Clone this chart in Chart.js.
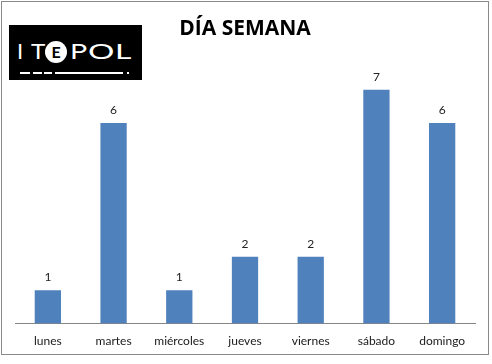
<!DOCTYPE html>
<html>
<head>
<meta charset="utf-8">
<script src="https://cdn.jsdelivr.net/npm/chart.js@4/dist/chart.umd.min.js"></script>
<style>
  body { margin: 0; background: #fff; }
  #wrap { position: relative; width: 492px; height: 364px; }
  #frame { position: absolute; left: 1px; top: 1px; width: 486px; height: 352px; border: 1px solid #8a8a8a; pointer-events: none; }
  #logo { position: absolute; left: 9px; top: 25px; width: 133px; height: 55px; background: #000; font-family: Lato, "DejaVu Sans", sans-serif; color: #fff; }
  #logo .ch { position: absolute; top: 15px; font-size: 22px; line-height: 22px; font-weight: 400; transform-origin: left center; }
  #logo .circ { position: absolute; left: 36px; top: 16px; width: 22px; height: 22px; border-radius: 50%; background: #fff; color: #000; font-size: 16px; font-weight: 700; line-height: 22px; text-align: center; }
  #logo .dash { position: absolute; top: 47px; height: 2px; background: #fff; }
</style>
</head>
<body>
<div id="wrap">
  <canvas id="chart" width="492" height="364"></canvas>
  <div id="frame"></div>
  <div id="logo">
    <span class="ch" style="left:8px">I</span>
    <span class="ch" style="left:22px;transform:scaleX(1.1)">T</span>
    <span class="circ">E</span>
    <span class="ch" style="left:61px;transform:scaleX(1.3)">P</span>
    <span class="ch" style="left:79px;transform:scaleX(1.5)">O</span>
    <span class="ch" style="left:106px;transform:scaleX(1.45)">L</span>
    <span class="dash" style="left:11px;width:10px"></span>
    <span class="dash" style="left:24px;width:9px"></span>
    <span class="dash" style="left:35px;width:8px"></span>
    <span class="dash" style="left:46px;width:68px"></span>
    <span class="dash" style="left:118px;width:2px"></span>
  </div>
</div>
<script>
const days = ['lunes', 'martes', 'miércoles', 'jueves', 'viernes', 'sábado', 'domingo'];
const counts = [1, 6, 1, 2, 2, 7, 6];
const yMax = 8;

const valueLabels = {
  id: 'valueLabels',
  afterDatasetsDraw(chart) {
    const ctx = chart.ctx;
    ctx.save();
    ctx.font = '12px Lato, "DejaVu Sans", sans-serif';
    ctx.fillStyle = '#222';
    ctx.textAlign = 'center';
    ctx.textBaseline = 'middle';
    chart.getDatasetMeta(0).data.forEach((bar, i) => {
      ctx.fillText(counts[i], bar.x, bar.y - 13);
    });
    ctx.restore();
  }
};

new Chart(document.getElementById('chart'), {
  type: 'bar',
  data: {
    labels: days,
    datasets: [{
      data: counts,
      backgroundColor: '#4F81BD',
      borderWidth: 0,
      categoryPercentage: 0.4,
      barPercentage: 1
    }]
  },
  options: {
    responsive: false,
    animation: false,
    layout: { padding: { left: 15, right: 17, top: 0, bottom: 6 } },
    plugins: {
      legend: { display: false },
      tooltip: { enabled: false },
      title: {
        display: true,
        text: 'DÍA SEMANA',
        color: '#000',
        font: { family: '"Open Sans", sans-serif', size: 21, weight: 'bold', lineHeight: 1.2 },
        padding: { top: 16, bottom: 15 }
      }
    },
    scales: {
      y: { display: false, min: 0, max: yMax },
      x: {
        grid: { display: false, drawTicks: false },
        border: { color: '#868686', width: 1 },
        ticks: { color: '#1a1a1a', padding: 10, font: { family: 'Lato, sans-serif', size: 12 } }
      }
    }
  },
  plugins: [valueLabels]
});
</script>
</body>
</html>
